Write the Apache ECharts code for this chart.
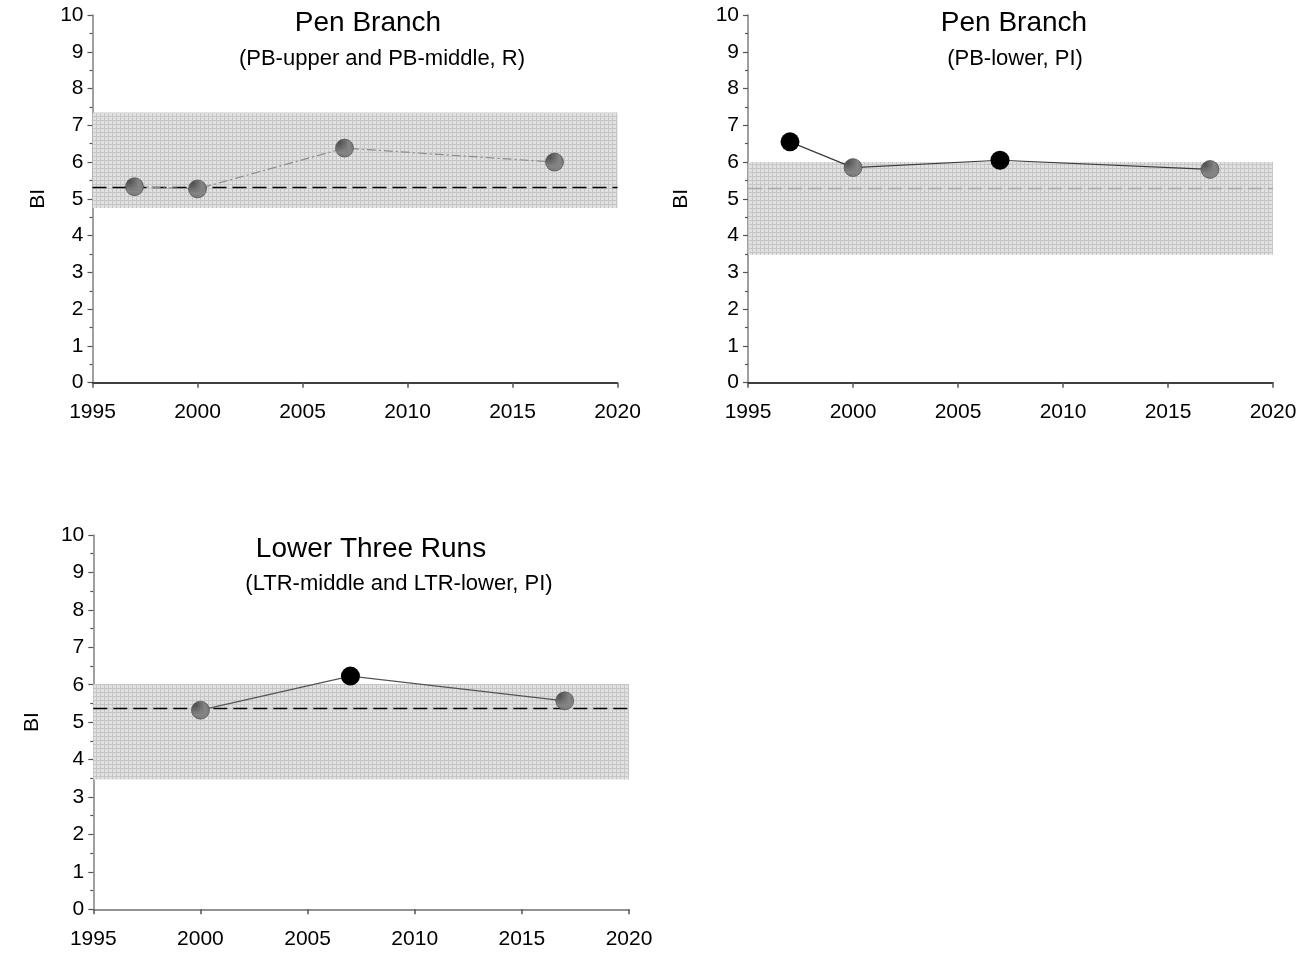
<!DOCTYPE html>
<html>
<head>
<meta charset="utf-8">
<script src="https://cdn.jsdelivr.net/npm/echarts@6/dist/echarts.min.js"></script>
<style>
  html, body { margin: 0; padding: 0; background: #fff; }
  #chart { width: 1316px; height: 953px; }
</style>
</head>
<body>
<div id="chart"></div>
<script>
// Biotic index (BI) by sampling year for three stream reaches
const panelTitles = ['Pen Branch', 'Pen Branch', 'Lower Three Runs'];
const panelSubtitles = ['(PB-upper and PB-middle, R)', '(PB-lower, PI)', '(LTR-middle and LTR-lower, PI)'];

const years1 = [1997, 2000, 2007, 2017];
const bi1 = [5.33, 5.27, 6.38, 6.0];
const kind1 = ['grey', 'grey', 'grey', 'grey'];

const years2 = [1997, 2000, 2007, 2017];
const bi2 = [6.55, 5.85, 6.05, 5.8];
const kind2 = ['black', 'grey', 'black', 'grey'];

const years3 = [2000, 2007, 2017];
const bi3 = [5.32, 6.23, 5.57];
const kind3 = ['grey', 'black', 'grey'];

// reference mean and reference range per panel
const refMean = [5.32, 5.30, 5.37];
const refLow = [4.75, 3.48, 3.47];
const refHigh = [7.35, 6.0, 6.02];

const xTicks = [1995, 2000, 2005, 2010, 2015, 2020];
const yAxisName = 'BI';

function gridPattern(bg, line, step) {
  const c = document.createElement('canvas');
  c.width = step; c.height = step;
  const g = c.getContext('2d');
  g.fillStyle = bg; g.fillRect(0, 0, step, step);
  g.fillStyle = line;
  g.fillRect(0, 0, step, 1);
  g.fillRect(0, 0, 1, step);
  return { image: c, repeat: 'repeat' };
}

const shadeFill = gridPattern('#e1e1e1', '#c6c6c6', 4);
const dotFill = gridPattern('#555555', '#858585', 3);

const FONT = 'Liberation Sans, Arial, sans-serif';

const grids = [
  { left: 92.5, top: 15, width: 525, height: 367.7 },
  { left: 748, top: 15, width: 525, height: 367.7 },
  { left: 93.3, top: 535, width: 535.7, height: 374.3 }
];

const xAxisColor = ['#000', '#000', '#6e6e6e'];
const nameGaps = [44, 56, 51];

const xAxes = grids.map((g, i) => ({
  type: 'value', gridIndex: i, min: xTicks[0], max: xTicks[xTicks.length - 1], interval: 5,
  axisLine: { show: true, onZero: false, lineStyle: { color: xAxisColor[i], width: 1.5 } },
  axisTick: { show: true, inside: false, length: 5, lineStyle: { color: '#555', width: 1.5 } },
  axisLabel: { color: '#000', fontSize: 21, fontFamily: FONT, margin: 19, formatter: v => String(v) },
  splitLine: { show: false }
}));

const yAxes = grids.map((g, i) => ({
  type: 'value', gridIndex: i, min: 0, max: 10, interval: 1,
  name: yAxisName, nameLocation: 'middle', nameGap: nameGaps[i],
  nameTextStyle: { color: '#000', fontSize: 21, fontFamily: FONT },
  axisLine: { show: true, lineStyle: { color: '#808080', width: 1.5 } },
  axisTick: { show: true, inside: false, length: 5, lineStyle: { color: '#555', width: 1.2 } },
  minorTick: { show: true, splitNumber: 2, length: 3, lineStyle: { color: '#555', width: 1.2 } },
  axisLabel: { color: '#000', fontSize: 21, fontFamily: FONT, margin: 9 },
  splitLine: { show: false }
}));

function points(years, vals, kinds) {
  return years.map((y, k) => ({
    value: [y, vals[k]],
    symbolSize: kinds[k] === 'black' ? 19 : 18,
    itemStyle: kinds[k] === 'black'
      ? { color: '#000', borderColor: '#000', borderWidth: 0 }
      : { color: dotFill, borderColor: '#444', borderWidth: 0.6 }
  }));
}

const lineStyles = [
  { color: '#8c8c8c', width: 1.2, type: [9, 3, 2, 3] },
  { color: '#3a3a3a', width: 1.2, type: 'solid' },
  { color: '#555', width: 1.2, type: 'solid' }
];
const meanStyles = [
  { color: '#000', width: 1.3, type: [14, 6] },
  { color: '#a6a6a6', width: 1.3, type: [14, 6] },
  { color: '#000', width: 1.3, type: [14, 6] }
];

const allYears = [years1, years2, years3];
const allVals = [bi1, bi2, bi3];
const allKinds = [kind1, kind2, kind3];

const series = [];
for (let i = 0; i < 3; i++) {
  series.push({
    type: 'line', xAxisIndex: i, yAxisIndex: i, z: 3,
    data: points(allYears[i], allVals[i], allKinds[i]),
    symbol: 'circle', showSymbol: true,
    lineStyle: lineStyles[i],
    emphasis: { disabled: true },
    markArea: {
      silent: true, z: 1,
      itemStyle: { color: shadeFill },
      data: [[{ yAxis: refLow[i] }, { yAxis: refHigh[i] }]]
    },
    markLine: {
      silent: true, symbol: 'none', z: 2,
      label: { show: false },
      lineStyle: meanStyles[i],
      data: [{ yAxis: refMean[i] }]
    },
    animation: false
  });
}

const titlePos = [
  { x: 368, y: 9, sx: 382, sy: 48 },
  { x: 1014, y: 9, sx: 1015, sy: 48 },
  { x: 371, y: 535, sx: 399, sy: 573 }
];

const titles = [];
for (let i = 0; i < 3; i++) {
  titles.push({
    text: panelTitles[i], left: titlePos[i].x, top: titlePos[i].y, textAlign: 'center', padding: 0,
    textStyle: { color: '#000', fontSize: 28, fontWeight: 'normal', fontFamily: FONT }
  });
  titles.push({
    text: panelSubtitles[i], left: titlePos[i].sx, top: titlePos[i].sy, textAlign: 'center', padding: 0,
    textStyle: { color: '#000', fontSize: 22, fontWeight: 'normal', fontFamily: FONT }
  });
}

const chart = echarts.init(document.getElementById('chart'), null, { renderer: 'canvas' });
chart.setOption({
  animation: false,
  backgroundColor: '#fff',
  title: titles,
  grid: grids,
  xAxis: xAxes,
  yAxis: yAxes,
  series: series
});
</script>
</body>
</html>
